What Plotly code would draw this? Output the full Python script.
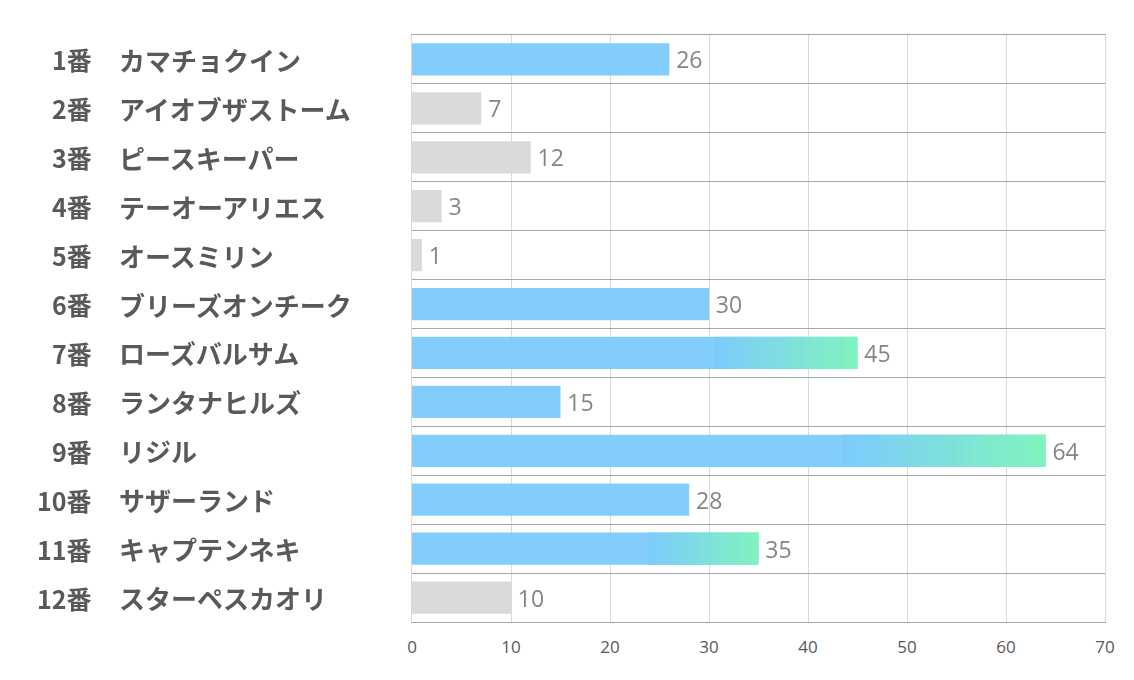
import plotly.graph_objects as go

numbers = ["1番", "2番", "3番", "4番", "5番", "6番", "7番", "8番", "9番", "10番", "11番", "12番"]
names = ["カマチョクイン", "アイオブザストーム", "ピースキーパー", "テーオーアリエス", "オースミリン",
         "ブリーズオンチーク", "ローズバルサム", "ランタナヒルズ", "リジル", "サザーランド",
         "キャプテンネキ", "スターペスカオリ"]
values = [26, 7, 12, 3, 1, 30, 45, 15, 64, 28, 35, 10]
kind = ["blue", "gray", "gray", "gray", "gray", "blue", "grad", "blue", "grad", "blue", "grad", "gray"]

BLUE = (125, 203, 253)
GREEN = (128, 247, 184)
GRAY = "#d9d9d9"

pos = list(range(len(values)))
colors = [GRAY if k == "gray" else "rgb(%d,%d,%d)" % BLUE for k in kind]

fig = go.Figure()
fig.add_trace(go.Bar(
    x=values, y=pos, orientation="h", width=0.66,
    marker=dict(color=colors, line=dict(width=0)), opacity=0.95,
    text=["\u2009" + str(v) for v in values], textposition="outside",
    textfont=dict(size=23, color="#7f7f7f", family="Open Sans"),
    cliponaxis=False, hoverinfo="skip", showlegend=False,
))

# gradient overlay (blue -> green) on the last 30% of the top bars
N = 50
for i, (v, k) in enumerate(zip(values, kind)):
    if k != "grad":
        continue
    start = 0.68 * v
    step = (v - start) / N
    bases, lens, cols = [], [], []
    for s in range(N):
        t = (s + 0.5) / N
        c = tuple(round(BLUE[j] + (GREEN[j] - BLUE[j]) * t) for j in range(3))
        bases.append(start + s * step)
        lens.append(step * 1.05 if s < N - 1 else step)
        cols.append("rgb(%d,%d,%d)" % c)
    fig.add_trace(go.Bar(
        x=lens, y=[i] * N, base=bases, orientation="h", width=0.66,
        marker=dict(color=cols, line=dict(width=0)), opacity=0.95,
        hoverinfo="skip", showlegend=False,
    ))

L, R, T, B = 412, 29, 35, 58
plot_w = 1134 - L - R
for i in pos:
    fig.add_annotation(x=(94 - L) / plot_w, xref="paper", y=i, yref="y",
                       text=numbers[i], showarrow=False, xanchor="right",
                       font=dict(size=25, color="#595959", family="Noto Sans CJK JP", weight=600))
    fig.add_annotation(x=(117 - L) / plot_w, xref="paper", y=i, yref="y",
                       text=names[i], showarrow=False, xanchor="left",
                       font=dict(size=26, color="#595959", family="Noto Sans CJK JP", weight=600))

fig.update_layout(
    width=1134, height=680, margin=dict(l=L, r=R, t=T, b=B),
    barmode="overlay", plot_bgcolor="white", paper_bgcolor="white",
    xaxis=dict(range=[0, 70], dtick=10, showgrid=True, gridcolor="#d9d9d9", gridwidth=1,
               zeroline=False, showline=True, linecolor="#a6a6a6", mirror=True,
               ticks="", ticklabelstandoff=10,
               tickfont=dict(size=17, color="#595959", family="Open Sans")),
    yaxis=dict(range=[11.5, -0.5], tick0=0.5, dtick=1, showgrid=True, gridcolor="#a6a6a6",
               gridwidth=1, zeroline=False, showticklabels=False, ticks="",
               showline=True, linecolor="#d9d9d9", mirror=True),
    font=dict(family="Noto Sans CJK JP"),
)
fig.write_html("out.html")
